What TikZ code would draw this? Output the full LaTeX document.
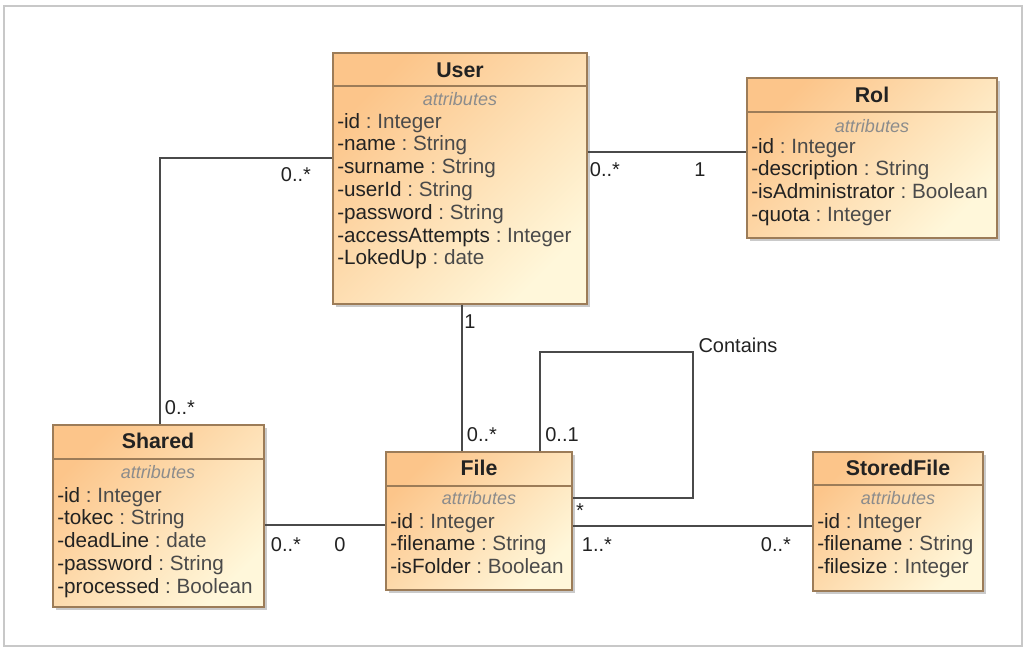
\documentclass[tikz,border=0pt]{standalone}
\usepackage{fontspec}
\setmainfont{Liberation Sans}
\usetikzlibrary{shadows,fit}
\definecolor{boxdark}{HTML}{FCC58A}
\definecolor{boxlight}{HTML}{FFF7DA}
\definecolor{boxborder}{HTML}{9C7C58}
\definecolor{namecol}{HTML}{222222}
\definecolor{typecol}{HTML}{4A4A4A}
\definecolor{linecol}{HTML}{4A4A4A}
\definecolor{attrcol}{HTML}{8C8C8C}
\definecolor{framecol}{HTML}{C8C8C8}
\newcommand{\attrlist}[4]{%
  \foreach \n/\t [count=\i] in {#4} {
    \node[attrrow] (#1-\i) at (#2,{#3+22.8*(\i-1)}) {\textcolor{namecol}{\n}\textcolor{typecol}{\ :\ \t}};
  }%
}
\begin{document}
\begin{tikzpicture}[x=0.75pt,y=-0.75pt,
  classbox/.style={draw=boxborder, line width=0.9pt, inner sep=0pt,
    top color=boxdark, bottom color=boxlight, shading angle=45,
    drop shadow={shadow xshift=2.5pt, shadow yshift=-2.5pt, opacity=0.35, fill=black!60}},
  divider/.style={draw=boxborder, line width=0.9pt},
  classtitle/.style={anchor=base, inner sep=0pt, font=\fontsize{16}{19}\selectfont\bfseries, text=namecol},
  stereo/.style={anchor=base, inner sep=0pt, font=\fontsize{13.5}{16}\selectfont\itshape, text=attrcol},
  attrrow/.style={anchor=base west, inner sep=0pt, font=\fontsize{15.5}{18}\selectfont},
  lbl/.style={inner sep=0pt, font=\fontsize{15}{18}\selectfont, text=namecol},
  assoc/.style={draw=linecol, line width=1pt}
]
\useasboundingbox (0,0) rectangle (1029,650);
\node[fit={(4,6) (1022,646)}, inner sep=0pt, draw=framecol, line width=1pt] (frame) {};

% ---------- classes ----------
% User
\node[classbox, fit={(333,53) (587,304)}] (user) {};
\draw[divider] (user.west |- 0,86) -- (user.east |- 0,86);
\node[classtitle] (user-t) at (460,77) {User};
\node[stereo] (user-s) at (460,105) {attributes};
\attrlist{user}{337}{128}{-id/Integer, -name/String, -surname/String, -userId/String, -password/String, -accessAttempts/Integer, -LokedUp/date}

% Rol
\node[classbox, fit={(747,78) (997,238)}] (rol) {};
\draw[divider] (rol.west |- 0,112) -- (rol.east |- 0,112);
\node[classtitle] (rol-t) at (872,102) {Rol};
\node[stereo] (rol-s) at (872,132) {attributes};
\attrlist{rol}{751}{153}{-id/Integer, -description/String, -isAdministrator/Boolean, -quota/Integer}

% Shared
\node[classbox, fit={(53,425) (264,607)}] (shared) {};
\draw[divider] (shared.west |- 0,459) -- (shared.east |- 0,459);
\node[classtitle] (shared-t) at (158,448) {Shared};
\node[stereo] (shared-s) at (158,478) {attributes};
\attrlist{shared}{57}{502}{-id/Integer, -tokec/String, -deadLine/date, -password/String, -processed/Boolean}

% File
\node[classbox, fit={(386,452) (572,590)}] (file) {};
\draw[divider] (file.west |- 0,486) -- (file.east |- 0,486);
\node[classtitle] (file-t) at (479,475) {File};
\node[stereo] (file-s) at (479,504) {attributes};
\attrlist{file}{390}{528}{-id/Integer, -filename/String, -isFolder/Boolean}

% StoredFile
\node[classbox, fit={(813,452) (983,591)}] (stored) {};
\draw[divider] (stored.west |- 0,485) -- (stored.east |- 0,485);
\node[classtitle] (stored-t) at (898,475) {StoredFile};
\node[stereo] (stored-s) at (898,504) {attributes};
\attrlist{stored}{817}{528}{-id/Integer, -filename/String, -filesize/Integer}

% ---------- associations ----------
\draw[assoc] (user.west |- 0,158) -| (shared.north -| 160,0);
\draw[assoc] (user.east |- 0,152) -- (rol.west |- 0,152);
\draw[assoc] (user.south -| 462,0) -- (file.north -| 462,0);
\coordinate (loopc) at (693,352);
\draw[assoc] (file.north -| 540,0) |- (loopc) |- (file.east |- 0,498);
\draw[assoc] (shared.east |- 0,525) -- (file.west |- 0,525);
\draw[assoc] (file.east |- 0,526) -- (stored.west |- 0,526);

% ---------- multiplicities ----------
\node[lbl] (m1) at (296,175) {0..*};
\node[lbl] (m2) at (180,408) {0..*};
\node[lbl] (m3) at (605,170) {0..*};
\node[lbl] (m4) at (700,170) {1};
\node[lbl] (m5) at (470,322) {1};
\node[lbl] (m6) at (482,435) {0..*};
\node[lbl] (m7) at (562,435) {0..1};
\node[lbl] (m8) at (738,345) {Contains};
\node[lbl] (m9) at (580,511) {*};
\node[lbl] (m10) at (286,545) {0..*};
\node[lbl] (m11) at (340,545) {0};
\node[lbl] (m12) at (597,545) {1..*};
\node[lbl] (m13) at (776,545) {0..*};
\end{tikzpicture}
\end{document}
